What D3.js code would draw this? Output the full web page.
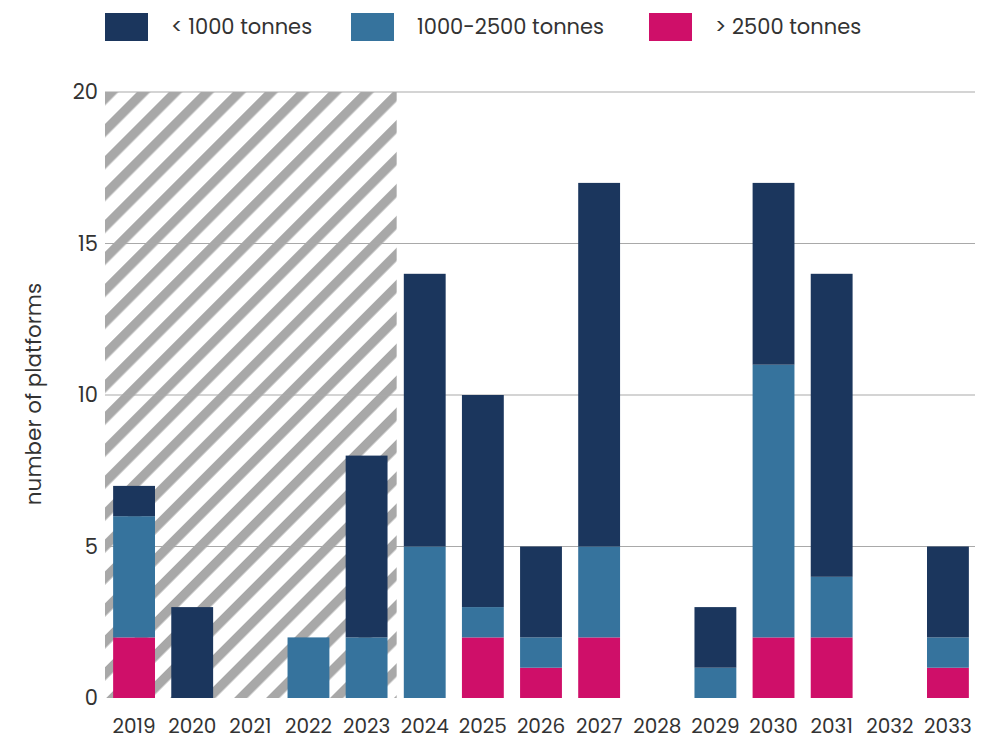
<!DOCTYPE html>
<html>
<head>
<meta charset="utf-8">
<script src="https://cdn.jsdelivr.net/npm/d3@7"></script>
<style>
  html, body { margin: 0; padding: 0; background: #fff; }
  svg { display: block; font-family: "Poppins", "Inter", "Noto Sans", sans-serif; }
</style>
</head>
<body>
<svg id="chart" width="987" height="737"></svg>
<script>
// Platforms per year, split by weight class
const years = ["2019","2020","2021","2022","2023","2024","2025","2026","2027","2028","2029","2030","2031","2032","2033"];
const over2500 = [2, 0, 0, 0, 0, 0, 2, 1, 2, 0, 0, 2, 2, 0, 1];
const mid1000to2500 = [4, 0, 0, 2, 2, 5, 1, 1, 3, 0, 1, 9, 2, 0, 1];
const under1000 = [1, 3, 0, 0, 6, 9, 7, 3, 12, 0, 2, 6, 10, 0, 3];
const seriesKeys = ["over", "mid", "under"];
const seriesLabels = ["> 2500 tonnes", "1000-2500 tonnes", "< 1000 tonnes"];
const seriesColors = ["#cf0f69", "#36739d", "#1b365d"];
const legendOrder = ["under", "mid", "over"];
const yTicks = [0, 5, 10, 15, 20];
const historicYears = ["2019", "2020", "2021", "2022", "2023"];

const rows = years.map((y, i) => ({ year: y, over: over2500[i], mid: mid1000to2500[i], under: under1000[i] }));

const svg = d3.select("#chart");
const margin = { left: 105, right: 10, top: 92, bottom: 39 };
const W = 987, H = 737;
const FONT = "Poppins, Inter, 'Noto Sans', sans-serif";

const x = d3.scaleBand().domain(years).range([margin.left, W - margin.right]).paddingInner(0.28).paddingOuter(0.14);
const y = d3.scaleLinear().domain([0, 20]).range([H - margin.bottom, margin.top]);

// Diagonal hatching for the historic period
const defs = svg.append("defs");
const pat = defs.append("pattern")
  .attr("id", "hatch")
  .attr("patternUnits", "userSpaceOnUse")
  .attr("width", 22.6).attr("height", 22.6)
  .attr("patternTransform", "translate(105,92) rotate(45)");
pat.append("rect").attr("x", 0).attr("y", 0).attr("width", 9.4).attr("height", 22.6).attr("fill", "#a8a8a8");

const lastHist = historicYears[historicYears.length - 1];
const nextYear = years[years.indexOf(lastHist) + 1];
const hx1 = (x(lastHist) + x.bandwidth() + x(nextYear)) / 2 + 1;
svg.append("rect")
  .attr("x", margin.left).attr("y", y(20))
  .attr("width", hx1 - margin.left).attr("height", y(0) - y(20))
  .attr("fill", "url(#hatch)");

// Horizontal grid
svg.append("g").selectAll("line")
  .data(yTicks.filter(t => t > 0))
  .join("line")
  .attr("x1", margin.left).attr("x2", W - margin.right - 2)
  .attr("y1", d => y(d)).attr("y2", d => y(d))
  .attr("stroke", "#a9a9a9").attr("stroke-width", 1);

// Stacked bars
const stack = d3.stack().keys(seriesKeys)(rows);
svg.append("g").selectAll("g")
  .data(stack)
  .join("g")
  .attr("fill", (d, i) => seriesColors[i])
  .selectAll("rect")
  .data(d => d.filter(s => s[1] - s[0] > 0))
  .join("rect")
  .attr("x", d => x(d.data.year))
  .attr("width", x.bandwidth())
  .attr("y", d => y(d[1]))
  .attr("height", d => y(d[0]) - y(d[1]));

// Y axis
const yAxis = svg.append("g")
  .attr("transform", `translate(${margin.left},0)`)
  .call(d3.axisLeft(y).tickValues(yTicks).tickSize(0).tickPadding(7));
yAxis.select(".domain").remove();
yAxis.selectAll("text").attr("font-size", 21).attr("fill", "#333").attr("font-family", FONT);

// X axis
const xAxis = svg.append("g")
  .attr("transform", `translate(0,${y(0)})`)
  .call(d3.axisBottom(x).tickSize(0).tickPadding(21));
xAxis.select(".domain").remove();
xAxis.selectAll("text").attr("font-size", 20).attr("fill", "#333").attr("font-family", FONT);

// Y axis title
svg.append("text")
  .attr("transform", `translate(41,${(y(0) + y(20)) / 2 - 1}) rotate(-90)`)
  .attr("text-anchor", "middle")
  .attr("font-size", 21.5).attr("fill", "#333")
  .text("number of platforms");

// Legend
const legendX = [105, 351, 649];
const lg = svg.append("g").selectAll("g")
  .data(legendOrder)
  .join("g")
  .attr("transform", (d, i) => `translate(${legendX[i]},13)`);
lg.append("rect").attr("width", 43).attr("height", 28)
  .attr("fill", d => seriesColors[seriesKeys.indexOf(d)]);
lg.append("text")
  .attr("x", 66).attr("y", 21)
  .attr("font-size", 21).attr("fill", "#333")
  .text(d => seriesLabels[seriesKeys.indexOf(d)]);
</script>
</body>
</html>
